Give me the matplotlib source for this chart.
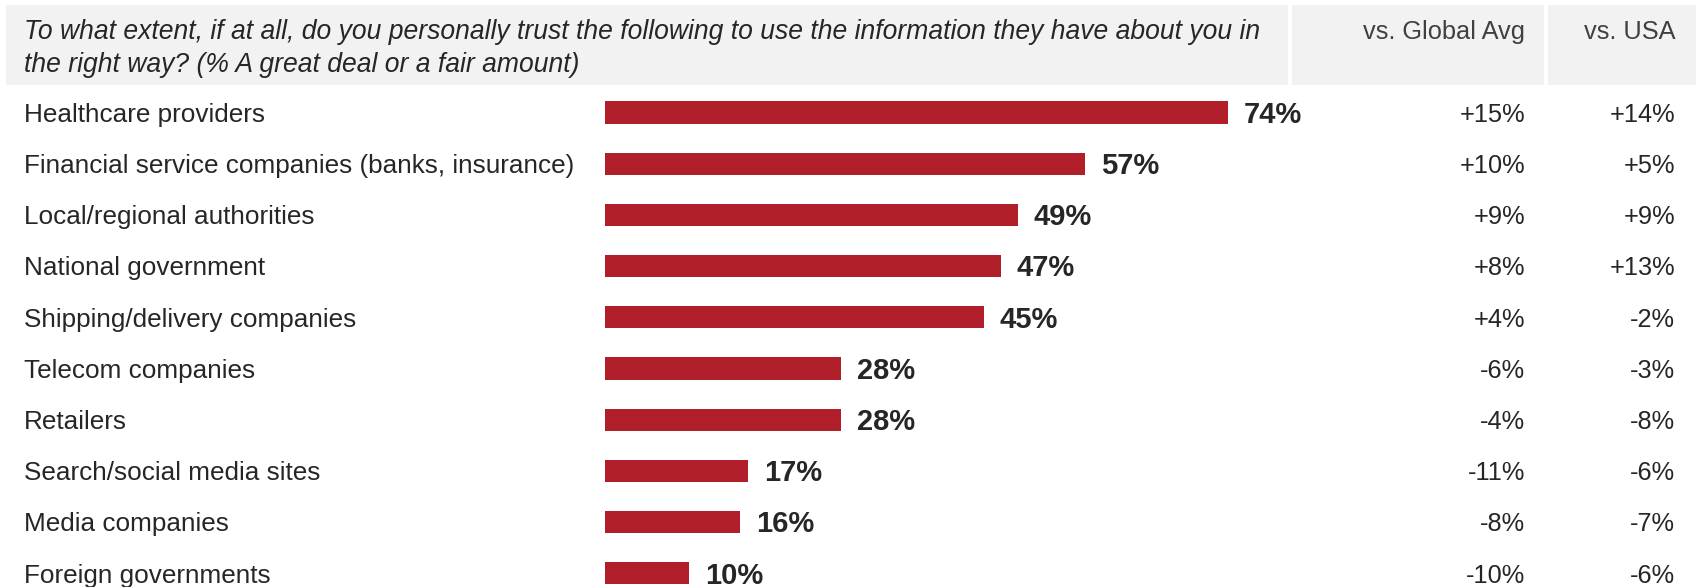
import matplotlib
matplotlib.use("Agg")
import matplotlib.pyplot as plt
from matplotlib.patches import Rectangle
from matplotlib.transforms import blended_transform_factory

plt.rcParams['font.family'] = ['Liberation Sans', 'DejaVu Sans']

categories = ["Healthcare providers", "Financial service companies (banks, insurance)",
              "Local/regional authorities", "National government",
              "Shipping/delivery companies", "Telecom companies", "Retailers",
              "Search/social media sites", "Media companies", "Foreign governments"]
values = [74, 57, 49, 47, 45, 28, 28, 17, 16, 10]
vs_global = ["+15%", "+10%", "+9%", "+8%", "+4%", "-6%", "-4%", "-11%", "-8%", "-10%"]
vs_usa = ["+14%", "+5%", "+9%", "+13%", "-2%", "-3%", "-8%", "-6%", "-7%", "-6%"]
title = ("To what extent, if at all, do you personally trust the following to use the information they have about you in\n"
         "the right way? (% A great deal or a fair amount)")
col_headers = ["vs. Global Avg", "vs. USA"]

W, H = 1696, 587
fig = plt.figure(figsize=(W / 100, H / 100), dpi=100)

def fx(px):
    return px / W

def fy(py):
    return 1 - py / H

# header boxes
hdr_color = "#F2F2F2"
for x0, x1 in [(6, 1288), (1292, 1544), (1548, 1696)]:
    fig.patches.append(Rectangle((fx(x0), fy(85)), fx(x1) - fx(x0), fy(5) - fy(85),
                                 transform=fig.transFigure, facecolor=hdr_color,
                                 edgecolor="none", zorder=0))

fig.text(fx(24), fy(48.6), title, fontsize=19.1, style="italic", color="#262626",
         ha="left", va="center", linespacing=1.36)
fig.text(fx(1525), fy(32), col_headers[0], fontsize=18.3, color="#404040", ha="right", va="center")
fig.text(fx(1675), fy(32), col_headers[1], fontsize=18.3, color="#404040", ha="right", va="center")

# bar axes
x0_px, x100_px = 605, 605 + 842
ax = fig.add_axes([fx(x0_px), 0, fx(x100_px) - fx(x0_px), fy(87)])
ax.set_xlim(0, 100)
y0_px, dy_px = 112.5, 51.2
ax.set_ylim((587 - y0_px) / dy_px, (87 - y0_px) / dy_px)
ax.axis("off")

ypos = list(range(len(categories)))
ax.barh(ypos, values, height=0.43, color="#B01F29")

trans = blended_transform_factory(fig.transFigure, ax.transData)
off = 0.045
for i, (cat, v, g, u) in enumerate(zip(categories, values, vs_global, vs_usa)):
    ax.text(v + 1.9, i + off, f"{v}%", fontsize=21, fontweight="bold", color="#262626",
            ha="left", va="center")
    ax.text(fx(24), i + off, cat, transform=trans, fontsize=18.8, color="#262626",
            ha="left", va="center")
    ax.text(fx(1525), i + off, g, transform=trans, fontsize=18.3, color="#262626",
            ha="right", va="center")
    ax.text(fx(1675), i + off, u, transform=trans, fontsize=18.3, color="#262626",
            ha="right", va="center")

fig.savefig("out.png", dpi=100)
